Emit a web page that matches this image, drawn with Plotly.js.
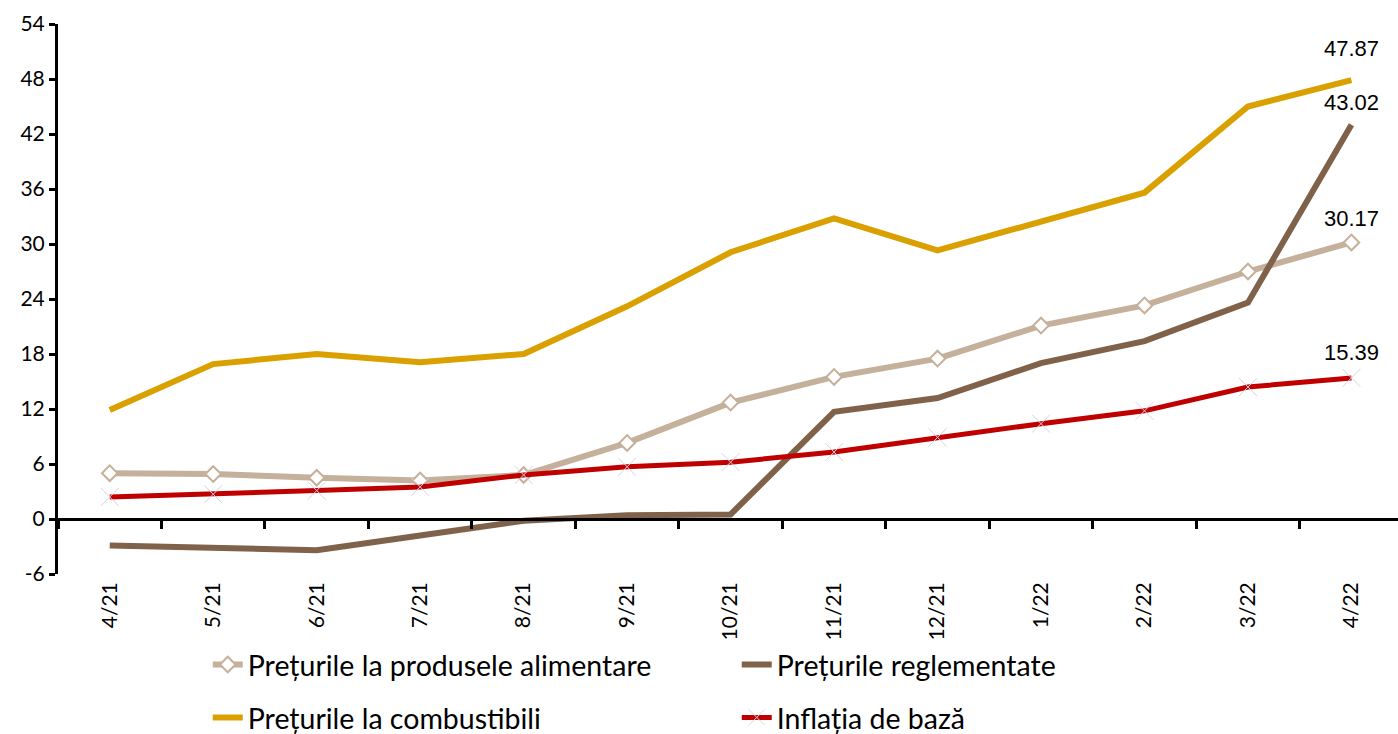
<!DOCTYPE html>
<html>
<head>
<meta charset="utf-8">
<script src="https://cdn.plot.ly/plotly-3.0.1.min.js"></script>
<style>html,body{margin:0;padding:0;background:#fff;}#chart{width:1398px;height:734px;}</style>
</head>
<body>
<div id="chart"></div>
<script>
const categories = ['4/21','5/21','6/21','7/21','8/21','9/21','10/21','11/21','12/21','1/22','2/22','3/22','4/22'];
const foodPrices = [5.0, 4.9, 4.5, 4.2, 4.8, 8.3, 12.7, 15.5, 17.5, 21.1, 23.3, 27.0, 30.17];
const regulatedPrices = [-2.9, -3.2, -3.4, -1.8, -0.2, 0.4, 0.5, 11.7, 13.2, 17.0, 19.4, 23.6, 43.02];
const fuelPrices = [11.9, 16.9, 18.0, 17.1, 18.0, 23.2, 29.1, 32.8, 29.3, 32.5, 35.6, 45.0, 47.87];
const coreInflation = [2.4, 2.7, 3.1, 3.5, 4.8, 5.7, 6.2, 7.3, 8.9, 10.4, 11.8, 14.4, 15.39];
const seriesNames = ['Prețurile la produsele alimentare','Prețurile reglementate','Prețurile la combustibili','Inflația de bază'];
const yTicks = [-6, 0, 6, 12, 18, 24, 30, 36, 42, 48, 54];

const legendFont = {family: 'Lato, "Noto Sans", sans-serif', size: 28.5, color: '#000'};

const traces = [
  {x: categories, y: foodPrices, name: seriesNames[0], type: 'scatter', mode: 'lines+markers',
   line: {color: '#c4b09b', width: 6}, marker: {symbol: 'diamond', size: 12, color: '#ffffff', line: {color: '#c4b09b', width: 2}},
   legend: 'legend'},
  {x: categories, y: regulatedPrices, name: seriesNames[1], type: 'scatter', mode: 'lines',
   line: {color: '#7f6249', width: 6}, legend: 'legend'},
  {x: categories, y: fuelPrices, name: seriesNames[2], type: 'scatter', mode: 'lines',
   line: {color: '#d9a000', width: 6}, legend: 'legend2'},
  {x: categories, y: coreInflation, name: seriesNames[3], type: 'scatter', mode: 'lines+markers',
   line: {color: '#c00000', width: 5}, marker: {symbol: 'x-thin', size: 18, color: '#d8d2e6', line: {color: '#d8d2e6', width: 1}},
   legend: 'legend2'},
  {x: categories, y: foodPrices, xaxis: 'x2', yaxis: 'y', type: 'scatter', mode: 'lines', opacity: 0,
   showlegend: false, hoverinfo: 'skip'}
];

const last = categories.length - 1;
const labelSpecs = [
  {vals: fuelPrices, yshift: 32, xshift: 0},
  {vals: regulatedPrices, yshift: 22, xshift: 0},
  {vals: foodPrices, yshift: 24, xshift: 0},
  {vals: coreInflation, yshift: 25, xshift: 0}
];
const annotations = labelSpecs.map(s => ({
  x: categories[last], y: s.vals[last], xref: 'x', yref: 'y',
  text: s.vals[last].toFixed(2), showarrow: false, yshift: s.yshift, xshift: s.xshift,
  font: {family: '"Liberation Sans", Arial, sans-serif', size: 22, color: '#000'}
}));

const layout = {
  width: 1398, height: 734,
  margin: {l: 58, r: 0, t: 24, b: 160},
  paper_bgcolor: '#fff', plot_bgcolor: '#fff',
  showlegend: true,
  xaxis: {type: 'category', range: [-0.5, 12.45], showline: false, ticks: '', showgrid: false, zeroline: false,
          tickangle: -90, tickfont: {family: 'Lato, "Noto Sans", sans-serif', size: 21, color: '#000'}, ticklabelstandoff: 3},
  xaxis2: {type: 'category', matches: 'x', overlaying: 'x', anchor: 'free', position: 0.1,
           showline: true, linecolor: '#000', linewidth: 3, ticks: 'outside', ticklen: 8, tickwidth: 3, tickcolor: '#000',
           tickson: 'boundaries', showticklabels: false, showgrid: false, zeroline: false},
  yaxis: {range: [-6, 54], tickvals: yTicks, ticktext: yTicks.map(String), showgrid: false, zeroline: false,
          showline: true, linecolor: '#000', linewidth: 3, ticks: 'outside', ticklen: 6, tickwidth: 3, tickcolor: '#000',
          tickfont: {family: 'Lato, "Noto Sans", sans-serif', size: 21, color: '#000'}},
  legend: {orientation: 'h', xref: 'container', yref: 'container', x: 0.1486, y: 0.094, yanchor: 'middle', xanchor: 'left',
           entrywidth: 484, entrywidthmode: 'pixels', font: legendFont, bgcolor: 'rgba(0,0,0,0)'},
  legend2: {orientation: 'h', xref: 'container', yref: 'container', x: 0.1486, y: 0.022, yanchor: 'middle', xanchor: 'left',
           entrywidth: 484, entrywidthmode: 'pixels', font: legendFont, bgcolor: 'rgba(0,0,0,0)'},
  annotations: annotations
};

Plotly.newPlot('chart', traces, layout, {displayModeBar: false, staticPlot: true});
</script>
</body>
</html>
